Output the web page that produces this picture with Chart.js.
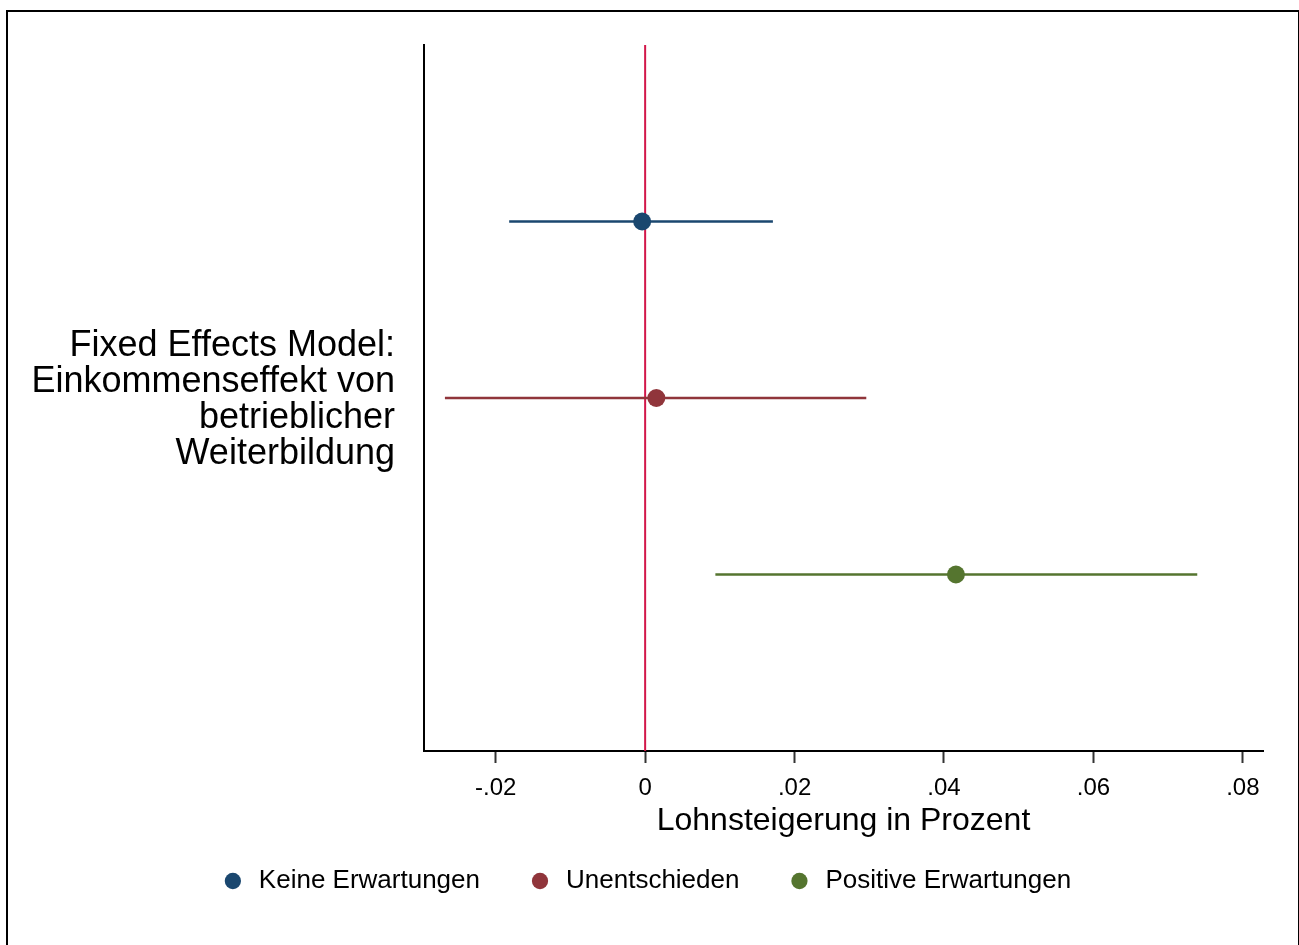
<!DOCTYPE html>
<html lang="de">
<head>
<meta charset="utf-8">
<title>Fixed Effects Model</title>
<script src="https://cdn.jsdelivr.net/npm/chart.js@4/dist/chart.umd.min.js"></script>
<style>
	html, body { margin: 0; padding: 0; background: #fff; overflow: hidden; }
	#frame {
		position: absolute; left: 6px; top: 10px; width: 1290px; height: 1000px;
		border: 2px solid #000; border-bottom: none;
	}
	#chart { position: absolute; left: 0; top: 0; }
</style>
</head>
<body>
<div id="frame"></div>
<canvas id="chart" width="1299" height="945"></canvas>
<script>
	// Series
	const groups = ['Keine Erwartungen', 'Unentschieden', 'Positive Erwartungen'];
	const estimates = [-0.0004, 0.0015, 0.0416];
	const ciLower = [-0.0182, -0.0268, 0.0094];
	const ciUpper = [0.0171, 0.0296, 0.0739];
	const rowPos = [1, 2, 3];
	const colors = ['#1a476f', '#90353b', '#55752f'];

	const xTicks = [-0.02, 0, 0.02, 0.04, 0.06, 0.08];
	const xTickLabels = ['-.02', '0', '.02', '.04', '.06', '.08'];
	const xTitle = 'Lohnsteigerung in Prozent';
	const yLabelLines = ['Fixed Effects Model:', 'Einkommenseffekt von', 'betrieblicher', 'Weiterbildung'];
	const zeroLine = 0;

	const FONT = '"Liberation Sans", Arial, sans-serif';

	// dots first so they end up on top and head the legend
	const dotSets = groups.map((g, i) => ({
		type: 'scatter',
		label: g,
		data: [{ x: estimates[i], y: rowPos[i] }],
		backgroundColor: colors[i],
		borderColor: colors[i],
		borderWidth: 0,
		pointStyle: 'circle',
		pointRadius: 9,
		pointHoverRadius: 9
	}));

	const ciSets = groups.map((g, i) => ({
		type: 'line',
		label: 'ci-' + i,
		data: [{ x: ciLower[i], y: rowPos[i] }, { x: ciUpper[i], y: rowPos[i] }],
		borderColor: colors[i],
		borderWidth: 2.6,
		pointRadius: 0,
		fill: false
	}));

	const refLine = {
		type: 'line',
		label: 'ref',
		data: [{ x: zeroLine, y: 0 }, { x: zeroLine, y: 4 }],
		borderColor: '#d2174a',
		borderWidth: 2,
		pointRadius: 0,
		fill: false
	};

	const yLabelPlugin = {
		id: 'yLabel',
		afterDraw(chart) {
			const ctx = chart.ctx;
			ctx.save();
			ctx.font = '36px ' + FONT;
			ctx.fillStyle = '#000';
			ctx.textAlign = 'right';
			ctx.textBaseline = 'middle';
			const mid = (chart.chartArea.top + chart.chartArea.bottom) / 2 + 2;
			const lh = 36;
			const start = mid - lh * (yLabelLines.length - 1) / 2;
			yLabelLines.forEach((t, i) => ctx.fillText(t, 395, start + i * lh));
			ctx.restore();
		}
	};

	new Chart(document.getElementById('chart'), {
		data: { datasets: [...dotSets, ...ciSets, refLine] },
		options: {
			responsive: false,
			animation: false,
			devicePixelRatio: 1,
			events: [],
			layout: { padding: { left: 28, top: 45, right: 36, bottom: 41 } },
			scales: {
				x: {
					type: 'linear',
					min: -0.0296,
					max: 0.0827,
					afterBuildTicks: (scale) => { scale.ticks = xTicks.map(v => ({ value: v })); },
					afterFit: (scale) => { scale.height = 70; },
					ticks: {
						callback: (v, i) => xTickLabels[i],
						font: { family: FONT, size: 24 },
						color: '#000',
						padding: 11,
						maxRotation: 0
					},
					grid: { drawOnChartArea: false, tickLength: 12, tickWidth: 2, tickColor: '#333' },
					border: { color: '#000', width: 2 },
					title: {
						display: true,
						text: xTitle,
						font: { family: FONT, size: 32 },
						color: '#000',
						padding: { top: 0, bottom: -19 }
					}
				},
				y: {
					type: 'linear',
					min: 0,
					max: 4,
					reverse: true,
					afterFit: (scale) => { scale.width = 396; },
					ticks: { display: false },
					grid: { display: false },
					border: { color: '#000', width: 2 }
				}
			},
			plugins: {
				tooltip: { enabled: false },
				legend: {
					position: 'bottom',
					labels: {
						filter: (item) => item.datasetIndex < groups.length,
						usePointStyle: true,
						pointStyle: 'circle',
						boxHeight: 11.5,
						padding: 47,
						color: '#000',
						font: { family: FONT, size: 26 }
					}
				}
			}
		},
		plugins: [yLabelPlugin]
	});
</script>
</body>
</html>
